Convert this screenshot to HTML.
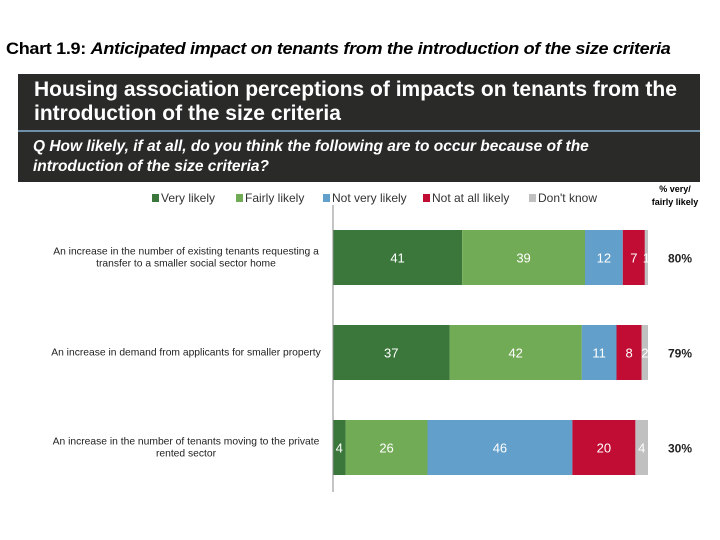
<!DOCTYPE html>
<html><head><meta charset="utf-8"><style>
body{margin:0;width:720px;height:540px;background:#fff;font-family:"Liberation Sans",Arial,sans-serif;position:relative;overflow:hidden}
.abs{position:absolute}
</style></head><body>
<div class="abs" style="left:6px;top:39px;font-size:17px;font-weight:bold;letter-spacing:-0.3px;white-space:nowrap;transform:scaleX(1.06);transform-origin:left">Chart 1.9: <i>Anticipated impact on tenants from the introduction of the size criteria</i></div>
<div class="abs" style="left:18px;top:74px;width:682px;height:108px;background:#2a2a28"></div>
<div class="abs" style="left:34px;top:78px;color:#fff;font-size:21px;font-weight:bold;line-height:24px;width:665px">Housing association perceptions of impacts on tenants from the introduction of the size criteria</div>
<div class="abs" style="left:18px;top:130px;width:682px;height:2px;background:#6f8fa8"></div>
<div class="abs" style="left:33px;top:137px;color:#fff;font-size:15.5px;font-weight:bold;font-style:italic;line-height:20px;white-space:nowrap">Q How likely, if at all, do you think the following are to occur because of the<br>introduction of the size criteria?</div>
<div class="abs" style="left:640px;top:183px;width:70px;text-align:center;font-size:9px;font-weight:bold;line-height:13px">% very/<br>fairly likely</div>
<svg class="abs" style="left:0;top:0" width="720" height="540" id="chart"></svg>
<script>
const categories=["An increase in the number of existing tenants requesting a|transfer to a smaller social sector home","An increase in demand from applicants for smaller property","An increase in the number of tenants moving to the private|rented sector"];
const series=["Very likely","Fairly likely","Not very likely","Not at all likely","Don't know"];
const veryLikely=[41,37,4];
const fairlyLikely=[39,42,26];
const notVeryLikely=[12,11,46];
const notAtAll=[7,8,20];
const dontKnow=[1,2,4];
const totals=["80%","79%","30%"];
const colors=["#3b773b","#72ab55","#629fca","#c10d34","#c0c0c0"];
const vals=[veryLikely,fairlyLikely,notVeryLikely,notAtAll,dontKnow];
const svg=document.getElementById('chart');const NS="http://www.w3.org/2000/svg";
const x0=333,scale=3.15;const xs=v=>x0+v*scale;
const yTop=i=>230+i*95,barH=55;
function mk(t,a,txt){const e=document.createElementNS(NS,t);for(const k in a)e.setAttribute(k,a[k]);if(txt!=null)e.textContent=txt;svg.appendChild(e);return e;}
const lx=[152,236,323,423,529];
series.forEach((s,j)=>{
 const r=mk('rect',{x:lx[j],y:194,width:7,height:8,fill:colors[j]});
 
 
 const t=mk('text',{x:lx[j]+9,y:202,'font-size':12,fill:'#333'},s);
 
 
});
categories.forEach((c,i)=>{
 let acc=0;const y=yTop(i);
 vals.forEach((arr,j)=>{
  const v=arr[i];
  const r=mk('rect',{x:xs(acc),y:y,width:v*scale,height:barH,fill:colors[j]});
  
  
  const cx=xs(acc)+v*scale/2;
  const t=mk('text',{x:cx,y:y+barH/2+5,'font-size':13,fill:'#fff','text-anchor':'middle'},String(v));
  
  
  acc+=v;
 });
 const lines=c.split('|');
 lines.forEach((l,k)=>{
  const t=mk('text',{x:186,y:y+barH/2+3-(lines.length-1)*6+k*12,'font-size':10.3,fill:'#222','text-anchor':'middle'},l);
  
  
 });
 const p=mk('text',{x:668,y:y+barH/2+5,'font-size':12,'font-weight':'bold',fill:'#222'},totals[i]);
 
 
});
const ax=mk('line',{x1:x0,y1:205,x2:x0,y2:492,stroke:'#888','stroke-width':1});


</script>
</body></html>
